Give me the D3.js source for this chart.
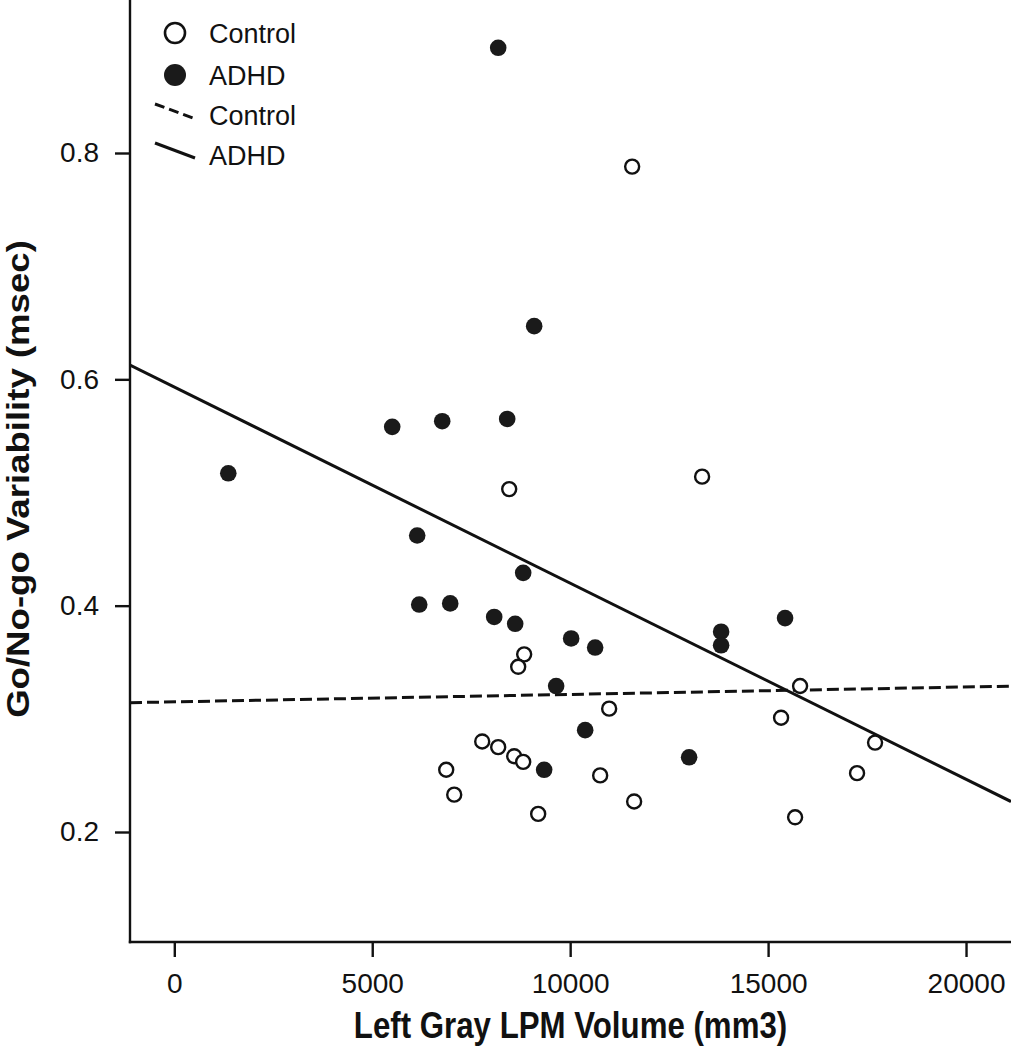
<!DOCTYPE html>
<html><head><meta charset="utf-8">
<script src="https://cdn.jsdelivr.net/npm/d3@7"></script>
<style>body{margin:0;background:#fff}svg{display:block}</style>
</head><body>
<script>
// ---- data ----
const controlX = [11566,8460,13333,8838,8687,15808,10985,15328,7778,8182,8586,8813,6869,7071,10758,9192,11616,15682,17247,17702];
const controlY = [0.788,0.503,0.514,0.357,0.346,0.329,0.309,0.301,0.280,0.275,0.267,0.262,0.255,0.233,0.250,0.216,0.227,0.213,0.252,0.279];
const adhdX = [8182,9091,1364,5505,6768,8409,6136,8813,6187,6970,8081,8611,10025,10631,9646,10379,9343,13005,13813,13813,15429];
const adhdY = [0.893,0.647,0.517,0.558,0.563,0.565,0.462,0.429,0.401,0.402,0.390,0.384,0.371,0.363,0.329,0.290,0.255,0.266,0.377,0.365,0.389];
const fitGroups = ["Control","ADHD"];
const fitIntercepts = [0.3150, 0.5932];
const fitSlopes = [6.58e-7, -1.733e-5];
const xTicks = [0,5000,10000,15000,20000];
const yTicks = [0.2,0.4,0.6,0.8];
const legendLabels = ["Control","ADHD","Control","ADHD"];
const xTitle = "Left Gray LPM Volume (mm3)";
const yTitle = "Go/No-go Variability (msec)";

(function(){
const W = 1011, H = 1050;
const pL = 130, pR = 1011, pT = 0, pB = 942;
const svg = d3.select("body").append("svg").attr("width",W).attr("height",H);
const x = d3.scaleLinear().domain([-1119, 21136]).range([pL, pR]);
const y = d3.scaleLinear().domain([0.1028, 0.9352]).range([pB, pT]);
const ink = "#111";

svg.append("defs").append("clipPath").attr("id","plotclip")
  .append("rect").attr("x",pL).attr("y",pT).attr("width",pR-pL).attr("height",pB-pT);

const g = svg.append("g").attr("clip-path","url(#plotclip)");
fitGroups.forEach((grp,i)=>{
  const xd = x.domain();
  g.append("line")
    .attr("x1",x(xd[0])).attr("y1",y(fitIntercepts[i]+fitSlopes[i]*xd[0]))
    .attr("x2",x(xd[1])).attr("y2",y(fitIntercepts[i]+fitSlopes[i]*xd[1]))
    .attr("stroke",ink).attr("stroke-width",3)
    .attr("stroke-dasharray", grp==="Control" ? "12,5" : null);
});

g.selectAll("circle.ctl").data(controlX.map((v,i)=>[v,controlY[i]])).join("circle")
  .attr("class","ctl").attr("cx",d=>x(d[0])).attr("cy",d=>y(d[1])).attr("r",7)
  .attr("fill","#fff").attr("stroke",ink).attr("stroke-width",2.4);
g.selectAll("circle.adhd").data(adhdX.map((v,i)=>[v,adhdY[i]])).join("circle")
  .attr("class","adhd").attr("cx",d=>x(d[0])).attr("cy",d=>y(d[1])).attr("r",8.3)
  .attr("fill","#1a1a1a");

const fontTick = "'Liberation Sans', Arial, sans-serif";
const xAxis = svg.append("g").attr("transform",`translate(0,${pB})`)
  .call(d3.axisBottom(x).tickValues(xTicks).tickFormat(d3.format("d")).tickSize(15).tickPadding(16).tickSizeOuter(0));
const yAxis = svg.append("g").attr("transform",`translate(${pL},0)`)
  .call(d3.axisLeft(y).tickValues(yTicks).tickFormat(d3.format(".1f")).tickSize(15).tickPadding(16).tickSizeOuter(0));
[xAxis,yAxis].forEach(a=>{
  a.select(".domain").remove();
  a.selectAll(".tick line").attr("stroke",ink).attr("stroke-width",2.4);
  a.selectAll(".tick text").attr("fill",ink).style("font-family",fontTick).style("font-size","28px");
});
svg.append("line").attr("x1",pL).attr("x2",pL).attr("y1",pT).attr("y2",pB+1.2)
  .attr("stroke",ink).attr("stroke-width",2.4);
svg.append("line").attr("x1",pL-1.2).attr("x2",pR).attr("y1",pB).attr("y2",pB)
  .attr("stroke",ink).attr("stroke-width",2.4);

const fontTitle = "'Liberation Sans', Arial, sans-serif";
svg.append("text").attr("transform",`translate(${(pL+pR)/2},1038) scale(0.854,1)`).attr("text-anchor","middle")
  .style("font-family",fontTitle).style("font-weight","bold").style("font-size","36.6px")
  .attr("fill",ink).text(xTitle);
svg.append("text").attr("transform",`translate(29,479) rotate(-90) scale(1,0.854)`).attr("text-anchor","middle")
  .style("font-family",fontTitle).style("font-weight","bold").style("font-size","36.6px")
  .attr("fill",ink).text(yTitle);

const lg = svg.append("g");
const rows = [33,75,115,155];
lg.append("circle").attr("cx",175).attr("cy",rows[0]).attr("r",10).attr("fill","#fff").attr("stroke",ink).attr("stroke-width",2.6);
lg.append("circle").attr("cx",175).attr("cy",rows[1]).attr("r",11).attr("fill","#1a1a1a");
lg.append("line").attr("x1",155).attr("y1",rows[2]-11).attr("x2",193).attr("y2",rows[2]+3)
  .attr("stroke",ink).attr("stroke-width",3).attr("stroke-dasharray","10,5");
lg.append("line").attr("x1",155).attr("y1",rows[3]-12).attr("x2",195).attr("y2",rows[3]+3)
  .attr("stroke",ink).attr("stroke-width",3);
legendLabels.forEach((t,i)=>{
  lg.append("text").attr("x",209).attr("y",rows[i]).attr("dy","0.36em")
    .style("font-family",fontTick).style("font-size","27px").attr("fill",ink).text(t);
});
})();
</script>
</body></html>
